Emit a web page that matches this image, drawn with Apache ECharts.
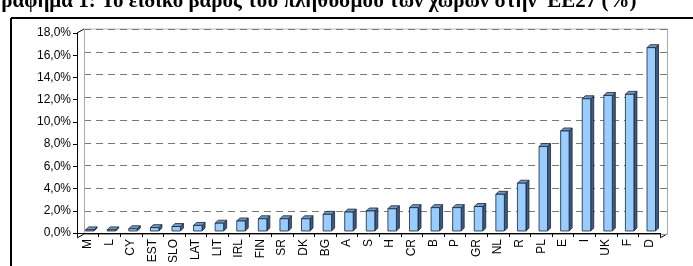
<!DOCTYPE html>
<html>
<head>
<meta charset="utf-8">
<script src="https://cdn.jsdelivr.net/npm/echarts@6/dist/echarts.min.js"></script>
<style>
  html, body { margin: 0; padding: 0; background: #fff; }
  #chart { width: 693px; height: 266px; }
</style>
</head>
<body>
<div id="chart"></div>
<script>
// χώρες ΕΕ27, ταξινομημένες κατά πληθυσμό
const countries = ['M', 'L', 'CY', 'EST', 'SLO', 'LAT', 'LIT', 'IRL', 'FIN', 'SR', 'DK', 'BG', 'A', 'S',
  'H', 'CR', 'B', 'P', 'GR', 'NL', 'R', 'PL', 'E', 'I', 'UK', 'F', 'D'];
// ειδικό βάρος πληθυσμού (%)
const shares = [0.1, 0.1, 0.2, 0.3, 0.4, 0.5, 0.7, 0.9, 1.1, 1.1, 1.1, 1.5, 1.7, 1.8,
  2.0, 2.1, 2.1, 2.1, 2.2, 3.3, 4.3, 7.6, 9.0, 11.9, 12.2, 12.3, 16.5];
const yTicks = [0, 2, 4, 6, 8, 10, 12, 14, 16, 18];

const titleText = 'Γράφημα 1: Το ειδικό βάρος του πληθυσμού των χωρών στην  ΕΕ27 (%)';

// γεωμετρία του "3Δ" πλαισίου
const L = 77, T = 33, W = 583, H = 205;
const DX = 7, DY = -4;

const chart = echarts.init(document.getElementById('chart'));

function renderBar(params, api) {
  const idx = api.value(0);
  const top = api.coord([idx, api.value(1)]);
  const base = api.coord([idx, 0]);
  const bw = 8.5, d = 3;
  const x0 = top[0] - 2.2;
  const yb = base[1] - 2;
  const yt = Math.min(top[1] - 2, yb);
  const x1 = x0 + bw;
  const stroke = '#1c2433';
  return {
    type: 'group',
    children: [
      { type: 'polygon', shape: { points: [[x1, yt], [x1 + d, yt - d], [x1 + d, yb - d], [x1, yb]] },
        style: { fill: '#3d5b80', stroke: stroke, lineWidth: 0.8 } },
      { type: 'polygon', shape: { points: [[x0, yt], [x0 + d, yt - d], [x1 + d, yt - d], [x1, yt]] },
        style: { fill: '#6f98c4', stroke: stroke, lineWidth: 0.8 } },
      { type: 'rect', shape: { x: x0, y: yt, width: bw, height: yb - yt },
        style: { fill: '#99ccff', stroke: stroke, lineWidth: 0.8 } }
    ]
  };
}

const option = {
  animation: false,
  textStyle: { fontFamily: 'Liberation Sans, Arial, sans-serif' },
  grid: [
    { left: L, top: T, width: W, height: H },
    { left: L + DX, top: T + DY, width: W, height: H }
  ],
  xAxis: [
    {
      type: 'category', gridIndex: 0, data: countries,
      axisLine: { lineStyle: { color: '#000', width: 1 } },
      axisTick: { show: true, alignWithLabel: false, length: 4, lineStyle: { color: '#000' } },
      axisLabel: { rotate: 90, margin: 6, fontSize: 12, color: '#000', interval: 0 }
    },
    {
      type: 'category', gridIndex: 1, data: countries,
      axisLine: { lineStyle: { color: '#999', width: 1 } },
      axisTick: { show: false }, axisLabel: { show: false }
    }
  ],
  yAxis: [
    {
      type: 'value', gridIndex: 0, min: 0, max: 18, interval: 2,
      axisLine: { show: true, lineStyle: { color: '#000', width: 1 } },
      axisTick: { show: true, length: 4, lineStyle: { color: '#000' } },
      axisLabel: { margin: 6, fontSize: 12, color: '#000',
        formatter: v => yTicks.indexOf(v) >= 0 ? v.toFixed(1).replace('.', ',') + '%' : '' },
      splitLine: { show: false }
    },
    {
      type: 'value', gridIndex: 1, min: 0, max: 18, interval: 2,
      axisLine: { show: true, lineStyle: { color: '#aaa', width: 1 } },
      axisTick: { show: false }, axisLabel: { show: false },
      splitLine: { show: true, lineStyle: { color: '#7a7a7a', width: 1.2, type: [7, 5] } }
    },
    {
      type: 'value', gridIndex: 1, min: 0, max: 18, interval: 2, position: 'right',
      axisLine: { show: true, lineStyle: { color: '#aaa', width: 1 } },
      axisTick: { show: false }, axisLabel: { show: false }, splitLine: { show: false }
    }
  ],
  graphic: [
    // πλαίσιο σελίδας
    { type: 'line', shape: { x1: 11, y1: 18, x2: 693, y2: 18 }, style: { stroke: '#000', lineWidth: 2 } },
    { type: 'line', shape: { x1: 11, y1: 18, x2: 11, y2: 266 }, style: { stroke: '#000', lineWidth: 2 } },
    // διαγώνιες του δαπέδου και του τοίχου
    { type: 'line', shape: { x1: L, y1: T, x2: L + DX, y2: T + DY }, style: { stroke: '#000', lineWidth: 1 } },
    { type: 'line', shape: { x1: L, y1: T + H, x2: L + DX, y2: T + H + DY }, style: { stroke: '#000', lineWidth: 1 } },
    { type: 'line', shape: { x1: L + W, y1: T + H, x2: L + W + DX, y2: T + H + DY }, style: { stroke: '#000', lineWidth: 1 } },
    { type: 'line', shape: { x1: L + DX, y1: T + DY, x2: L + W + DX, y2: T + DY }, style: { stroke: '#bbb', lineWidth: 1 } },
    // τίτλος (κομμένος στο πάνω μέρος)
    { type: 'text', left: -12, top: -9, z: 10,
      style: { text: titleText, font: 'bold 21px "Liberation Serif", "Times New Roman", serif', fill: '#000' } }
  ],
  series: [
    {
      type: 'custom', xAxisIndex: 0, yAxisIndex: 0,
      renderItem: renderBar,
      data: shares.map((v, i) => [i, v]),
      z: 5
    }
  ]
};

chart.setOption(option);
</script>
</body>
</html>
